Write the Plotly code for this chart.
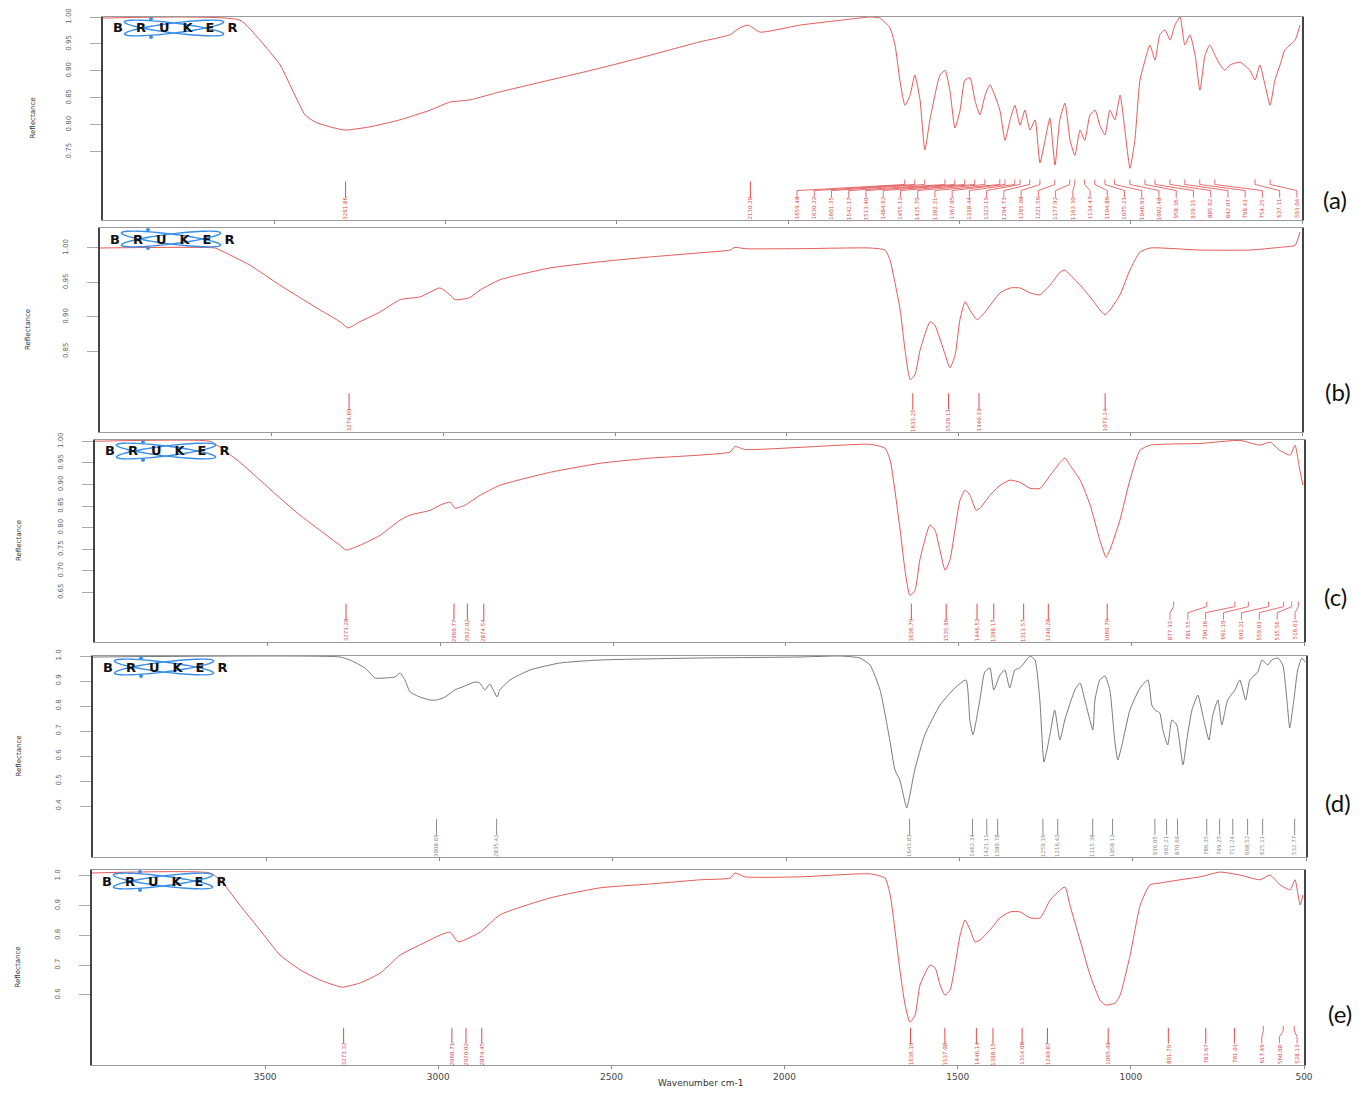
import numpy as np
import plotly.graph_objects as go

W, H = 1364, 1097          # browser window
OFF = 8                    # default page body margin
FW, FH = W - 2 * OFF, H - 2 * OFF   # figure size so that it fits inside the window

# ---------------- spectra (wavenumber cm-1, reflectance) ----------------
wn_a = [4000, 3600, 3542, 3483, 3440, 3410, 3381, 3337, 3294, 3221, 3133, 3045, 2987, 2929, 2841, 2695, 2549, 2403, 2257, 2170,
        2141, 2117, 2082, 1965, 1819, 1761, 1732, 1703, 1688, 1674, 1659, 1644, 1630, 1615, 1601, 1586, 1557, 1542, 1528, 1513,
        1498, 1484, 1469, 1455, 1440, 1425, 1411, 1382, 1367, 1352, 1338, 1323, 1309, 1294, 1279, 1265, 1250, 1236, 1221, 1207,
        1192, 1177, 1163, 1148, 1134, 1119, 1104, 1090, 1075, 1061, 1046, 1031, 1017, 1002, 988, 973, 958, 944, 929, 915,
        900, 885, 871, 856, 842, 827, 812, 798, 783, 769, 754, 739, 725, 710, 681, 652, 637, 623, 608, 593,
        579, 564, 550, 535, 520, 506]
r_a = [0.998, 0.994, 0.957, 0.911, 0.855, 0.818, 0.805, 0.796, 0.790, 0.796, 0.809, 0.827, 0.842, 0.846, 0.861, 0.883, 0.905, 0.929, 0.954, 0.967,
       0.980, 0.985, 0.972, 0.985, 0.996, 1.000, 0.998, 0.980, 0.948, 0.883, 0.836, 0.855, 0.892, 0.846, 0.753, 0.809, 0.892, 0.901, 0.864, 0.794,
       0.827, 0.883, 0.887, 0.846, 0.818, 0.855, 0.874, 0.827, 0.771, 0.809, 0.836, 0.799, 0.827, 0.790, 0.809, 0.729, 0.771, 0.812, 0.725, 0.809,
       0.840, 0.771, 0.743, 0.790, 0.771, 0.818, 0.827, 0.799, 0.781, 0.827, 0.809, 0.855, 0.790, 0.719, 0.771, 0.883, 0.920, 0.948, 0.920, 0.967,
       0.976, 0.957, 0.985, 1.000, 0.948, 0.967, 0.929, 0.864, 0.929, 0.948, 0.929, 0.911, 0.901, 0.911, 0.916, 0.901, 0.883, 0.911, 0.874, 0.836,
       0.883, 0.911, 0.939, 0.948, 0.957, 0.985]

wn_b = [4000, 3665, 3651, 3563, 3476, 3418, 3359, 3301, 3278, 3243, 3185, 3126, 3068, 3010, 2981, 2966, 2923, 2893, 2835, 2690,
        2544, 2398, 2253, 2165, 2151, 2122, 1962, 1758, 1714, 1700, 1670, 1656, 1641, 1627, 1612, 1583, 1569, 1539, 1525, 1510,
        1496, 1481, 1467, 1446, 1423, 1379, 1350, 1321, 1292, 1263, 1234, 1204, 1190, 1175, 1146, 1117, 1088, 1074, 1059, 1030,
        1001, 972, 942, 797, 651, 564, 520, 506]
r_b = [1.000, 1.000, 0.997, 0.975, 0.946, 0.928, 0.910, 0.893, 0.884, 0.893, 0.907, 0.925, 0.929, 0.942, 0.932, 0.925, 0.928, 0.939, 0.954, 0.971,
       0.980, 0.987, 0.993, 0.997, 1.001, 0.999, 0.999, 1.000, 0.997, 0.983, 0.910, 0.852, 0.809, 0.816, 0.852, 0.893, 0.888, 0.845, 0.826, 0.845,
       0.896, 0.922, 0.910, 0.896, 0.907, 0.935, 0.942, 0.942, 0.935, 0.932, 0.946, 0.965, 0.968, 0.961, 0.946, 0.929, 0.910, 0.903, 0.910, 0.932,
       0.968, 0.994, 1.000, 0.997, 0.997, 1.001, 1.004, 1.023]

wn_c = [4000, 3667, 3638, 3580, 3522, 3464, 3407, 3349, 3291, 3273, 3233, 3175, 3117, 3088, 3030, 3001, 2972, 2958, 2929, 2885,
        2828, 2683, 2538, 2393, 2249, 2162, 2147, 2118, 1959, 1756, 1713, 1698, 1669, 1655, 1641, 1626, 1612, 1583, 1568, 1554,
        1539, 1525, 1496, 1481, 1467, 1449, 1438, 1409, 1380, 1351, 1322, 1293, 1264, 1235, 1206, 1192, 1177, 1148, 1119, 1091,
        1073, 1062, 1033, 1004, 975, 946, 801, 685, 627, 598, 570, 540, 526, 512, 503]
r_c = [1.000, 1.000, 0.986, 0.951, 0.910, 0.868, 0.829, 0.794, 0.759, 0.748, 0.759, 0.782, 0.817, 0.829, 0.840, 0.852, 0.859, 0.845, 0.852, 0.875,
       0.898, 0.928, 0.949, 0.961, 0.968, 0.975, 0.988, 0.981, 0.986, 0.993, 0.984, 0.956, 0.794, 0.701, 0.643, 0.655, 0.725, 0.806, 0.794, 0.748,
       0.701, 0.725, 0.863, 0.887, 0.875, 0.840, 0.845, 0.875, 0.898, 0.910, 0.905, 0.891, 0.891, 0.921, 0.951, 0.961, 0.944, 0.910, 0.852, 0.771,
       0.731, 0.748, 0.817, 0.910, 0.979, 0.991, 0.995, 1.002, 0.991, 0.998, 0.979, 0.968, 0.991, 0.933, 0.898]

wn_d = [4000, 3287, 3259, 3215, 3186, 3158, 3129, 3114, 3100, 3085, 3057, 3028, 3008, 2984, 2956, 2927, 2898, 2884, 2869, 2855,
        2834, 2826, 2797, 2739, 2653, 2537, 2249, 1960, 1845, 1787, 1758, 1729, 1701, 1686, 1672, 1652, 1643, 1629, 1600, 1556,
        1513, 1481, 1470, 1461, 1441, 1427, 1412, 1401, 1383, 1369, 1355, 1340, 1326, 1311, 1297, 1282, 1268, 1256, 1239, 1225,
        1210, 1196, 1167, 1152, 1138, 1115, 1109, 1095, 1080, 1066, 1052, 1043, 1031, 1008, 979, 956, 945, 936, 922, 913,
        899, 887, 873, 855, 844, 829, 812, 798, 780, 769, 754, 743, 726, 705, 691, 674, 662, 639, 627, 610,
        599, 581, 567, 555, 547, 535, 524, 512, 503]
r_d = [0.996, 0.996, 0.984, 0.952, 0.912, 0.912, 0.916, 0.932, 0.904, 0.856, 0.836, 0.824, 0.824, 0.836, 0.864, 0.880, 0.896, 0.892, 0.864, 0.888,
       0.836, 0.864, 0.904, 0.944, 0.972, 0.984, 0.992, 0.996, 1.000, 0.992, 0.964, 0.864, 0.664, 0.544, 0.504, 0.392, 0.444, 0.544, 0.684, 0.804,
       0.872, 0.904, 0.744, 0.684, 0.824, 0.936, 0.952, 0.864, 0.924, 0.944, 0.872, 0.944, 0.952, 0.976, 1.000, 0.984, 0.824, 0.576, 0.684, 0.784,
       0.664, 0.744, 0.864, 0.892, 0.824, 0.704, 0.824, 0.904, 0.920, 0.864, 0.664, 0.584, 0.644, 0.784, 0.872, 0.904, 0.804, 0.784, 0.772, 0.704,
       0.644, 0.744, 0.724, 0.564, 0.664, 0.784, 0.844, 0.764, 0.664, 0.764, 0.824, 0.724, 0.824, 0.864, 0.904, 0.824, 0.904, 0.936, 0.984, 0.964,
       0.984, 0.992, 0.964, 0.824, 0.712, 0.824, 0.944, 0.992, 0.976]

wn_e = [4000, 3659, 3630, 3573, 3515, 3457, 3399, 3342, 3278, 3226, 3168, 3110, 3053, 2995, 2966, 2943, 2923, 2879, 2822, 2677,
        2533, 2388, 2244, 2157, 2143, 2114, 1955, 1753, 1710, 1695, 1667, 1652, 1638, 1623, 1609, 1580, 1565, 1551, 1537, 1522,
        1493, 1479, 1464, 1450, 1435, 1407, 1378, 1349, 1320, 1291, 1262, 1233, 1204, 1190, 1176, 1147, 1118, 1089, 1074, 1046,
        1031, 1002, 973, 945, 916, 858, 800, 742, 685, 627, 598, 569, 540, 526, 511, 503]
r_e = [1.010, 1.010, 0.987, 0.902, 0.818, 0.734, 0.684, 0.650, 0.626, 0.640, 0.673, 0.734, 0.768, 0.801, 0.811, 0.778, 0.785, 0.811, 0.869, 0.926,
       0.960, 0.973, 0.987, 0.993, 1.010, 0.997, 0.997, 1.007, 0.993, 0.936, 0.684, 0.566, 0.508, 0.532, 0.633, 0.700, 0.690, 0.633, 0.599, 0.616,
       0.801, 0.852, 0.818, 0.778, 0.785, 0.818, 0.859, 0.879, 0.879, 0.859, 0.859, 0.919, 0.953, 0.963, 0.902, 0.785, 0.667, 0.582, 0.566, 0.572,
       0.599, 0.734, 0.902, 0.970, 0.976, 0.987, 0.997, 1.013, 1.003, 0.987, 1.003, 0.970, 0.953, 0.987, 0.902, 0.936]

# ---------------- peak labels ----------------
peaks_a = [3291.86, 2110.28]
peaks_a_group = [1659.48, 1630.22, 1601.35, 1542.17, 1513.40, 1484.62, 1455.12, 1425.70, 1382.31, 1367.05,
                 1338.44, 1323.19, 1294.73, 1265.08, 1221.56, 1177.92, 1163.30, 1134.47, 1104.86, 1075.21,
                 1046.93, 1002.48, 958.36, 929.15, 885.62, 842.07, 798.43, 754.25, 637.11, 593.04]
peaks_b = [3274.69, 1633.25, 1529.11, 1440.33, 1073.24]
peaks_c = [3273.28, 2960.77, 2922.02, 2874.54, 1636.79, 1535.96, 1446.52, 1398.17, 1311.57, 1240.28, 1069.79]
peaks_c_group = [877.33, 781.55, 700.36, 661.19, 602.31, 559.03, 535.56, 516.61]
peaks_d = [3008.69, 2835.41, 1643.83, 1462.34, 1421.11, 1389.78, 1259.16, 1216.42, 1115.38, 1058.12,
           936.05, 902.21, 870.66, 786.35, 749.25, 711.24, 668.52, 625.11, 532.77]
peaks_e = [3273.32, 2960.71, 2920.02, 2874.45, 1636.19, 1537.08, 1446.14, 1398.15, 1314.08, 1240.87,
           1065.49, 891.79, 783.67, 701.01]
peaks_e_group = [617.49, 560.08, 528.13]

panel_names = ["(a)", "(b)", "(c)", "(d)", "(e)"]
x_ticks = [3500, 3000, 2500, 2000, 1500, 1000, 500]
y_ticks_a = [0.75, 0.80, 0.85, 0.90, 0.95, 1.00]
y_ticks_b = [0.85, 0.90, 0.95, 1.00]
y_ticks_c = [0.65, 0.70, 0.75, 0.80, 0.85, 0.90, 0.95, 1.00]
y_ticks_d = [0.4, 0.5, 0.6, 0.7, 0.8, 0.9, 1.0]
y_ticks_e = [0.6, 0.7, 0.8, 0.9, 1.0]

RED = "#e35a58"
RED_TXT = "#e04a4a"
GRAY = "#7a7a7a"
GRAY_TXT = "#8a8a8a"

# panel boxes in window pixels: (left, right, top, bottom)
boxes = [(103, 1302, 17, 220), (100, 1302, 228, 432), (95, 1304, 440, 642), (93, 1306, 656, 857), (92, 1304, 870, 1065)]
yranges = [[0.623, 1.0], [0.733, 1.029], [0.535, 1.003], [0.196, 1.0], [0.364, 1.02]]
ytickss = [y_ticks_a, y_ticks_b, y_ticks_c, y_ticks_d, y_ticks_e]
yfmts = [".2f", ".2f", ".2f", ".1f", ".1f"]
spectra = [(wn_a, r_a, RED), (wn_b, r_b, RED), (wn_c, r_c, RED), (wn_d, r_d, GRAY), (wn_e, r_e, RED)]
label_sets = [
    (peaks_a, peaks_a_group, (1974, 515), RED_TXT),
    (peaks_b, [], None, RED_TXT),
    (peaks_c, peaks_c_group, (888, 526), RED_TXT),
    (peaks_d, [], None, GRAY_TXT),
    (peaks_e, peaks_e_group, (622, 520), RED_TXT),
]
ytitle_x = [32, 28, 19, 18, 17]
panel_label_pos = [(1335, 200), (1338, 392), (1335, 597), (1338, 802), (1340, 1013)]


def PX(px):
    return (px - OFF) / FW


def PY(py):
    return 1 - (py - OFF) / FH


fig = go.Figure()
shapes = []
annotations = []
layout = {}


def ellipse_path(cx, cy, a, b, ang):
    t = np.linspace(0, 2 * np.pi, 72)
    x = cx + a * np.cos(t) * np.cos(ang) - b * np.sin(t) * np.sin(ang)
    y = cy + a * np.cos(t) * np.sin(ang) + b * np.sin(t) * np.cos(ang)
    pts = [f"{PX(xx):.5f},{PY(yy):.5f}" for xx, yy in zip(x, y)]
    return "M" + " L".join(pts) + " Z"


for i in range(5):
    n = i + 1
    sfx = "" if n == 1 else str(n)
    xa, ya = "x" + sfx, "y" + sfx
    L, R, T, B = boxes[i]
    wn, rr, col = spectra[i]
    fig.add_trace(go.Scatter(x=wn, y=rr, mode="lines", xaxis=xa, yaxis=ya,
                             line=dict(color=col, width=1, shape="spline", smoothing=0.5),
                             showlegend=False, hoverinfo="skip"))
    last = (n == 5)
    layout["xaxis" + sfx] = dict(
        domain=[PX(L), PX(R)], range=[4000, 500], anchor=ya, automargin=False,
        showline=True, linecolor="#9a9a9a", linewidth=1, mirror=True,
        ticks="outside", ticklen=3, tickcolor="#888", tickvals=x_ticks,
        showticklabels=last, showgrid=False, zeroline=False,
        tickfont=dict(family="DejaVu Sans", size=9, color="#444"),
    )
    layout["yaxis" + sfx] = dict(
        domain=[PY(B), PY(T)], range=yranges[i], anchor=xa, automargin=False,
        showline=True, linecolor="#444", linewidth=1.5, mirror=True,
        ticks="outside", ticklen=11, tickcolor="#aaa", tickvals=ytickss[i],
        tickformat=yfmts[i], tickangle=-90, ticklabelstandoff=16,
        tickfont=dict(family="DejaVu Sans", size=7, color="#666"),
        showgrid=False, zeroline=False,
    )
    # y title
    annotations.append(dict(text="Reflectance", x=PX(ytitle_x[i]), y=PY((T + B) / 2),
                            xref="paper", yref="paper", showarrow=False, textangle=-90,
                            xanchor="center", yanchor="middle",
                            font=dict(family="DejaVu Sans", size=7, color="#333")))
    # panel label
    px_, py_ = panel_label_pos[i]
    annotations.append(dict(text=panel_names[i], x=PX(px_), y=PY(py_), xref="paper", yref="paper",
                            showarrow=False, xanchor="center", yanchor="middle",
                            font=dict(family="Lato", size=24, color="#111")))
    # peak labels
    singles, group, span, tcol = label_sets[i]
    yd = ya + " domain"
    entries = [(p, p) for p in singles]
    if group:
        slots = np.linspace(span[0], span[1], len(group))
        entries += list(zip(group, slots))
    for p, s in entries:
        if abs(p - s) < 1:
            shapes.append(dict(type="line", xref=xa, yref=yd, x0=p, x1=p, y0=0.19, y1=0.11,
                               line=dict(color=tcol, width=1)))
        else:
            shapes.append(dict(type="line", xref=xa, yref=yd, x0=p, x1=p, y0=0.20, y1=0.175,
                               line=dict(color=tcol, width=0.8)))
            shapes.append(dict(type="line", xref=xa, yref=yd, x0=p, x1=s, y0=0.175, y1=0.145,
                               line=dict(color=tcol, width=0.8)))
            shapes.append(dict(type="line", xref=xa, yref=yd, x0=s, x1=s, y0=0.145, y1=0.11,
                               line=dict(color=tcol, width=0.8)))
        annotations.append(dict(text=f"{p:.2f}", x=s, y=0.058, xref=xa, yref=yd, showarrow=False,
                                textangle=-90, xanchor="center", yanchor="middle",
                                font=dict(family="DejaVu Sans", size=5.5, color=tcol)))
    # BRUKER logo
    cx, cy = L + 71, T + 11
    for ang in (np.radians(7), np.radians(-7)):
        shapes.append(dict(type="path", xref="paper", yref="paper", path=ellipse_path(cx, cy, 50, 5, ang),
                           line=dict(color="#3a8ee6", width=1.4)))
    for dy in (-9, 9):
        shapes.append(dict(type="circle", xref="paper", yref="paper",
                           x0=PX(cx - 25), x1=PX(cx - 21), y0=PY(cy + dy - 2), y1=PY(cy + dy + 2),
                           fillcolor="#3a8ee6", line=dict(width=0)))
    annotations.append(dict(text="<b>B\u2003R\u2003U\u2003K\u2003E\u2003R</b>", x=PX(L + 72), y=PY(T + 11),
                            xref="paper", yref="paper", showarrow=False, xanchor="center", yanchor="middle",
                            font=dict(family="DejaVu Sans", size=13, color="#111")))

annotations.append(dict(text="Wavenumber cm-1", x=PX(700), y=PY(1083), xref="paper", yref="paper",
                        showarrow=False, xanchor="center", yanchor="middle",
                        font=dict(family="DejaVu Sans", size=9, color="#333")))

fig.update_layout(**layout)
fig.update_layout(width=FW, height=FH, autosize=False, margin=dict(l=0, r=0, t=0, b=0, pad=0),
                  paper_bgcolor="white", plot_bgcolor="white",
                  shapes=shapes, annotations=annotations, showlegend=False)
fig.write_html("out.html")
